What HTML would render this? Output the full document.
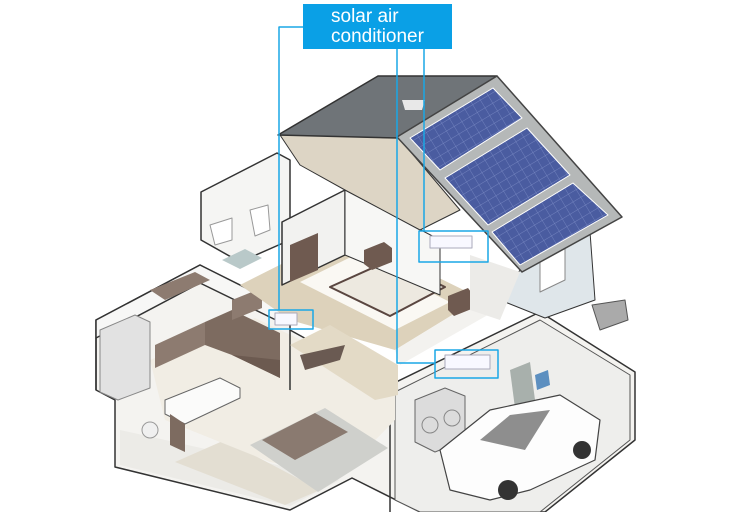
<!DOCTYPE html>
<html><head><meta charset="utf-8"><style>
html,body{margin:0;padding:0;background:#fff;width:750px;height:512px;overflow:hidden}
.lbl{position:absolute;left:303px;top:4px;width:149px;height:45px;background:#0aa0e6;color:#fff;font-family:"Liberation Sans",sans-serif;font-size:19px;line-height:20px;box-sizing:border-box;padding:3px 0 0 28px}
</style></head><body>
<svg width="750" height="512" viewBox="0 0 750 512" style="position:absolute;left:0;top:0" stroke-linejoin="round">
<defs>
<pattern id="pv" width="9" height="9" patternUnits="userSpaceOnUse" patternTransform="rotate(-31)">
<rect width="9" height="9" fill="#4a5ca0"/><path d="M0 0H9M0 0V9" stroke="#7f8fc8" stroke-width="0.7"/></pattern>
</defs>
<!-- outer lower shell -->
<polygon points="96,320 200,265 290,312 290,330 390,385 540,312 635,372 635,440 545,512 420,512 352,478 290,510 115,467 115,400 96,390" fill="#f4f3f0" stroke="#333" stroke-width="1.5"/>
<!-- garage floor -->
<polygon points="395,392 540,320 630,375 630,440 540,512 420,512 395,500" fill="#eeeeec" stroke="#555" stroke-width="1"/>
<line x1="390" y1="385" x2="390" y2="512" stroke="#333" stroke-width="1.5"/>
<!-- basement -->
<polygon points="120,430 120,465 290,506 340,480 300,470" fill="#ecebe7"/>
<polygon points="175,462 225,440 320,490 285,505" fill="#e3ded2"/>
<circle cx="150" cy="430" r="8" fill="#f0f0f0" stroke="#999"/>
<!-- kitchen/dining floor -->
<polygon points="150,360 255,318 395,385 395,420 340,476 270,462 165,420" fill="#f1ede4"/>
<polygon points="250,445 325,408 388,448 318,492" fill="#cfd0cc"/>
<polygon points="262,440 315,413 348,432 295,460" fill="#8a7a70"/>
<!-- kitchen back wall -->
<polygon points="96,320 200,265 280,305 280,322 200,283 96,338" fill="#f7f7f6" stroke="#333" stroke-width="1.5"/>
<line x1="96" y1="338" x2="96" y2="390" stroke="#333" stroke-width="1.5"/>
<!-- kitchen cabinets -->
<polygon points="155,345 205,322 205,345 155,368" fill="#8d7b70"/>
<polygon points="205,322 232,310 280,333 280,378 232,355 205,345" fill="#7d6b60"/>
<polygon points="232,355 280,378 280,360" fill="#6c5a50"/>
<polygon points="150,290 195,272 210,280 165,300" fill="#8d7b70"/>
<polygon points="232,300 262,288 262,308 232,320" fill="#8d7b70"/>
<polygon points="100,330 135,315 150,322 150,388 118,400 100,392" fill="#e2e2e2" stroke="#888"/>
<polygon points="165,400 220,378 240,388 240,398 185,424 165,414" fill="#fbfbfa" stroke="#666"/>
<polygon points="170,414 185,424 185,452 170,445" fill="#7d6b60"/>
<!-- partition dining/kitchen -->
<line x1="290" y1="330" x2="290" y2="390" stroke="#333" stroke-width="1.5"/>
<!-- middle floor (bedroom level) -->
<polygon points="240,285 345,232 480,298 395,350 290,320" fill="#ddd2bb"/>
<polygon points="300,282 355,255 450,302 395,330" fill="#faf8f3"/>
<polygon points="330,287 390,260 445,287 390,316" fill="#ede9e0" stroke="#5a4640" stroke-width="2"/>
<polygon points="395,350 480,298 500,308 400,365" fill="#f3f2ef"/>
<polygon points="290,345 330,325 398,365 398,395 375,400" fill="#e3dac6"/>
<polygon points="300,355 345,345 340,360 305,370" fill="#6a5a52"/>
<!-- upper bathroom -->
<polygon points="201,192 277,153 290,160 290,240 240,262 201,240" fill="#f5f5f3" stroke="#333" stroke-width="1.5"/>
<polygon points="222,260 245,249 262,258 240,269" fill="#b9c9c9"/>
<polygon points="210,225 232,218 232,240 215,245" fill="#fff" stroke="#999"/>
<polygon points="250,210 268,205 270,230 255,236" fill="#fff" stroke="#999"/>
<!-- bedroom walls -->
<polygon points="282,222 345,190 345,255 282,285" fill="#f2f2f0" stroke="#333" stroke-width="1.5"/>
<polygon points="345,190 440,240 440,295 345,255" fill="#f7f7f5" stroke="#333" stroke-width="1"/>
<polygon points="290,245 318,233 318,270 290,282" fill="#6f5a50"/>
<polygon points="364,250 384,242 392,248 392,262 372,270 364,264" fill="#6f5a50"/>
<polygon points="448,296 468,288 474,296 474,308 454,316 448,310" fill="#6f5a50"/>
<!-- attic -->
<polygon points="280,135 398,137 460,210 420,230 345,190 300,165" fill="#ddd5c5" stroke="#333" stroke-width="1"/>
<!-- right house wall -->
<polygon points="520,270 590,232 595,300 545,318 500,300" fill="#dfe6ea" stroke="#333" stroke-width="1"/>
<polygon points="470,255 520,272 500,320 470,310" fill="#ecebe8"/>
<polygon points="540,258 565,246 565,280 540,292" fill="#ffffff" stroke="#888"/>
<polygon points="592,305 625,300 628,320 600,330" fill="#aaa" stroke="#555"/>
<!-- roof -->
<polygon points="278,135 378,76 497,76 398,138" fill="#6f7478" stroke="#333" stroke-width="1.5"/>
<polygon points="402,100 425,100 422,110 405,110" fill="#e8e8e8"/>
<polygon points="397,137 497,76 622,217 522,272" fill="#b5b8b8" stroke="#444" stroke-width="1.5"/>
<polygon points="410,138 493,88 522,118 440,170" fill="url(#pv)" stroke="#fff" stroke-width="1"/>
<polygon points="445,178 527,128 570,175 488,225" fill="url(#pv)" stroke="#fff" stroke-width="1"/>
<polygon points="492,232 573,183 608,215 520,265" fill="url(#pv)" stroke="#fff" stroke-width="1"/>
<!-- garage items -->
<polygon points="415,400 445,388 465,396 465,440 435,452 415,442" fill="#dcdcdc" stroke="#666"/>
<circle cx="430" cy="425" r="8" fill="none" stroke="#888"/><circle cx="452" cy="418" r="8" fill="none" stroke="#888"/>
<polygon points="510,370 530,362 535,400 515,408" fill="#a8b0ac"/>
<polygon points="535,375 548,370 550,385 537,390" fill="#5c8fc0"/>
<polygon points="440,450 490,410 560,395 600,420 595,460 530,490 490,500 450,490" fill="#fdfdfd" stroke="#444" stroke-width="1.2"/>
<polygon points="480,440 510,415 550,410 525,450" fill="#8e8e8e"/>
<circle cx="508" cy="490" r="10" fill="#333"/><circle cx="582" cy="450" r="9" fill="#333"/>
<!-- indoor units -->
<rect x="430" y="236" width="42" height="12" fill="#f8f8ff" stroke="#aab"/>
<rect x="445" y="355" width="45" height="14" fill="#f8f8ff" stroke="#aab"/>
<rect x="275" y="313" width="22" height="12" fill="#f8f8ff" stroke="#aab"/>
<!-- callout lines -->
<g fill="none" stroke="#1aa7e6" stroke-width="1.5">
<polyline points="303,27 279,27 279,310"/>
<rect x="269" y="310" width="44" height="19"/>
<polyline points="397,49 397,363 435,363"/>
<rect x="435" y="350" width="63" height="28"/>
<polyline points="424,49 424,231"/>
<rect x="419" y="231" width="69" height="31"/>
</g>
</svg>
<div class="lbl">solar air<br>conditioner</div>
</body></html>
